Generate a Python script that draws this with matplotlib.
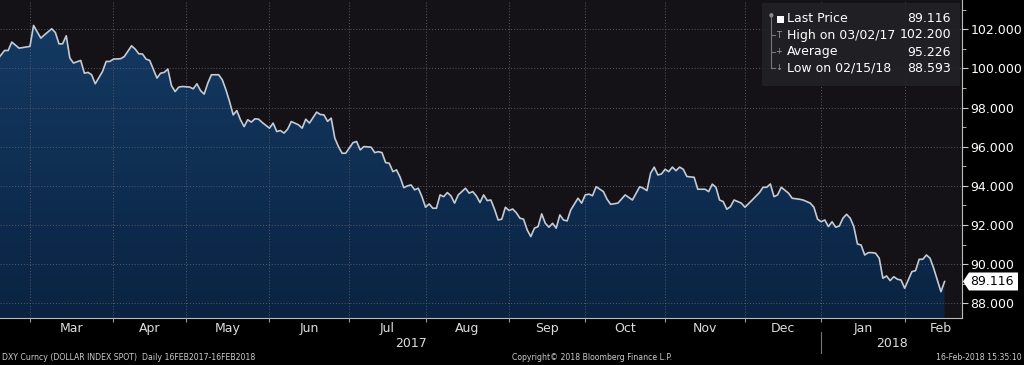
import numpy as np
import pandas as pd
import matplotlib
matplotlib.use('Agg')
import matplotlib.pyplot as plt
from matplotlib.colors import LinearSegmentedColormap
from matplotlib.patches import Polygon, Rectangle
from matplotlib.transforms import IdentityTransform

# trading-day number counted from 16FEB2017, and DXY close
day = [0, 2, 3, 4, 6, 9, 10, 12, 13, 15, 16, 17, 18, 19, 20, 21, 23, 24, 25, 26,
       27, 29, 30, 31, 32, 34, 35, 37, 38, 39, 40, 41, 42, 44, 45, 46, 47, 48, 49, 50,
       51, 53, 54, 55, 56, 57, 58, 59, 61, 62, 63, 64, 65, 66, 67, 68, 69, 70, 71, 72,
       73, 75, 76, 77, 78, 79, 80, 81, 83, 84, 85, 86, 88, 89, 90, 91, 92, 93, 94, 95,
       96, 98, 99, 100, 101, 103, 104, 105, 106, 107, 108, 109, 110, 111, 112, 113, 114, 115, 116, 117,
       118, 119, 120, 121, 122, 123, 124, 125, 126, 127, 129, 130, 131, 132, 133, 134, 135, 136, 137, 138,
       139, 140, 141, 142, 143, 144, 145, 146, 147, 148, 149, 150, 151, 152, 153, 154, 155, 156, 157, 158,
       160, 161, 162, 163, 164, 165, 167, 168, 169, 171, 173, 175, 177, 178, 179, 180, 181, 182, 183, 184,
       185, 186, 187, 188, 189, 190, 192, 193, 195, 196, 197, 198, 199, 200, 201, 202, 203, 205, 206, 208,
       210, 211, 212, 213, 214, 215, 216, 218, 219, 221, 222, 223, 224, 225, 226, 227, 228, 229, 230, 231,
       232, 233, 234, 235, 236, 237, 238, 239, 240, 241, 242, 243, 244, 245, 246, 247, 248, 249, 250, 251,
       252, 253, 254, 255, 256, 257, 258, 259, 260, 261]
price = [100.45, 100.92, 100.92, 101.35, 101.04, 101.13, 102.20, 101.55, 101.72, 102.03,
         101.84, 101.26, 101.26, 101.67, 100.53, 100.28, 100.41, 99.76, 99.80, 99.68,
         99.22, 99.85, 100.36, 100.36, 100.48, 100.50, 100.61, 101.16, 100.99, 100.75,
         100.74, 100.48, 100.41, 99.51, 99.76, 99.80, 99.97, 99.12, 98.82, 99.05,
         99.08, 99.05, 98.96, 99.22, 98.87, 98.69, 99.25, 99.68, 99.68, 99.42,
         98.91, 98.31, 97.63, 97.85, 97.38, 97.03, 97.38, 97.26, 97.43, 97.41,
         97.24, 96.95, 97.21, 96.78, 96.83, 96.70, 96.90, 97.29, 97.12, 96.95,
         97.41, 97.21, 97.77, 97.65, 97.63, 97.30, 97.46, 96.44, 96.01, 95.67,
         95.67, 96.21, 96.27, 95.84, 96.01, 95.98, 95.70, 95.75, 95.70, 95.19,
         95.16, 94.73, 94.82, 94.44, 93.91, 94.00, 94.05, 93.80, 93.88, 93.45,
         92.91, 93.08, 92.86, 92.86, 93.54, 93.45, 93.66, 93.49, 93.12, 93.54,
         93.88, 93.63, 93.71, 93.49, 93.15, 93.54, 93.25, 93.28, 92.81, 92.26,
         92.30, 92.91, 92.74, 92.82, 92.63, 92.35, 92.30, 91.75, 91.41, 91.84,
         91.92, 92.57, 92.09, 91.89, 92.09, 91.84, 92.52, 92.26, 92.21, 92.77,
         93.37, 93.12, 93.54, 93.58, 93.50, 93.96, 93.71, 93.32, 93.06, 93.12,
         93.54, 93.28, 93.96, 93.88, 93.76, 94.65, 94.96, 94.56, 94.61, 94.85,
         94.73, 94.96, 94.78, 94.96, 94.85, 94.48, 94.44, 93.83, 93.83, 93.71,
         94.09, 93.93, 93.28, 93.20, 92.81, 92.94, 93.28, 93.12, 92.91, 93.28,
         93.66, 93.93, 93.93, 94.10, 93.45, 93.54, 93.93, 93.63, 93.37, 93.32,
         93.28, 93.20, 93.12, 92.91, 92.30, 92.17, 92.26, 91.92, 92.17, 91.89,
         91.95, 92.35, 92.55, 92.35, 91.92, 91.03, 90.98, 90.47, 90.59, 90.59,
         90.56, 90.30, 89.28, 89.40, 89.16, 89.36, 89.23, 89.19, 88.77, 89.19,
         89.62, 89.67, 90.25, 90.25, 90.47, 90.30, 89.79, 89.19, 88.593, 89.116]

month_labels = ['Mar', 'Apr', 'May', 'Jun', 'Jul', 'Aug', 'Sep', 'Oct', 'Nov', 'Dec', 'Jan', 'Feb']
year_labels = ['2017', '2018']
y_ticks = [88, 90, 92, 94, 96, 98, 100, 102]
legend_labels = ['Last Price', 'High on 03/02/17', 'Average', 'Low on 02/15/18']
legend_values = ['89.116', '102.200', '95.226', '88.593']
last_price = '89.116'

W, H = 1024, 365
fig = plt.figure(figsize=(W / 100, H / 100), dpi=100, facecolor='black')
ax = fig.add_axes([0, 47 / H, 962 / W, 318 / H])
ax.set_facecolor('#141216')

x0, x1 = 0.75, 265.8
y0, y1 = 87.25, 103.5
ax.set_xlim(x0, x1)
ax.set_ylim(y0, y1)

# blue gradient area under the line
fill = ax.fill_between(day, price, y0, color='none', lw=0, zorder=1)
cmap = LinearSegmentedColormap.from_list('dxy', ['#0a2342', '#143a63'])
grad = np.linspace(0, 1, 256).reshape(-1, 1)
im = ax.imshow(grad, cmap=cmap, origin='lower', aspect='auto',
               extent=[x0, x1, y0, 102.5], zorder=1)
im.set_clip_path(fill.get_paths()[0], transform=ax.transData)
ax.plot(day, price, color='#c5cad3', lw=1.2, zorder=3)

# trading-day calendar for the month grid
bd = pd.bdate_range('2017-02-16', '2018-03-31')
firsts = bd.to_series().groupby(bd.to_period('M')).first().values
starts = np.searchsorted(bd.values, firsts)[1:]
centers = [(a + b) / 2 for a, b in zip(starts[:-1], starts[1:])]

ax.set_xticks(starts[:-1])
ax.set_xticklabels([])
ax.set_xticks(centers, minor=True)
ax.set_xticklabels(month_labels, minor=True)
ax.tick_params(axis='x', which='major', length=3, color='#999999', direction='out')
ax.tick_params(axis='x', which='minor', length=0, pad=3, labelsize=9, labelcolor='#dddddd')

ax.yaxis.tick_right()
ax.set_yticks(y_ticks)
ax.set_yticklabels(['%.3f' % v for v in y_ticks])
ax.set_yticks(np.arange(89, 104, 2), minor=True)
ax.tick_params(axis='y', which='both', direction='out', color='#cccccc', labelsize=9,
               labelcolor='white', pad=2)
ax.tick_params(axis='y', which='major', length=4)
ax.tick_params(axis='y', which='minor', length=3)

ax.set_axisbelow(False)
ax.grid(which='major', color='#59596a', linestyle=(0, (1, 2)), linewidth=0.7)
for s in ['top', 'left']:
    ax.spines[s].set_visible(False)
ax.spines['right'].set_color('#bbbbbb')
ax.spines['bottom'].set_color('#bbbbbb')

# year labels and separator
ax.text((starts[10] + x0) / 2, -0.06, year_labels[0], transform=ax.get_xaxis_transform(),
        ha='center', va='top', fontsize=9, color='#dddddd')
ax.text((starts[10] + x1) / 2, -0.06, year_labels[1], transform=ax.get_xaxis_transform(),
        ha='center', va='top', fontsize=9, color='#dddddd')
ax.plot([starts[10], starts[10]], [-0.045, -0.11], transform=ax.get_xaxis_transform(),
        color='#777777', lw=0.8, clip_on=False)

def px(x, y):
    return x / W, 1 - y / H

# legend box
fig.add_artist(Rectangle(px(762, 86), 198 / W, 83 / H, transform=fig.transFigure,
                         facecolor='#222226', edgecolor='none', alpha=0.92, zorder=2))
fig.add_artist(plt.Line2D([771 / W, 771 / W], [1 - 17 / H, 1 - 68 / H], color='#777777', lw=0.8, zorder=3))
for yy in [35, 52, 68]:
    fig.add_artist(plt.Line2D([771 / W, 775 / W], [1 - yy / H, 1 - yy / H], color='#777777', lw=0.8, zorder=3))
fig.text(*px(771, 15), '●', fontsize=4, color='#888888', ha='center', va='center')
fig.add_artist(Rectangle(px(777, 23), 7 / W, 7 / H, transform=fig.transFigure,
                         facecolor='white', edgecolor='none', zorder=3))
fig.text(*px(779, 35), 'T', fontsize=6, color='#999999', ha='center', va='center')
fig.text(*px(779, 52), '+', fontsize=6, color='#999999', ha='center', va='center')
fig.text(*px(779, 68), '↓', fontsize=6, color='#999999', ha='center', va='center')
for k, (lab, val) in enumerate(zip(legend_labels, legend_values)):
    yy = [19, 35, 52, 68][k]
    fig.text(*px(787, yy), lab, fontsize=9, color='white', ha='left', va='center')
    fig.text(*px(951, yy), val, fontsize=9, color='white', ha='right', va='center')

# last price tag on the axis
fig.canvas.draw()
ty = ax.transData.transform((0, price[-1]))[1]
tx = ax.transAxes.transform((1, 0))[0]
tag = Polygon([(tx + 1, ty), (tx + 7, ty + 9), (tx + 56, ty + 9), (tx + 56, ty - 9), (tx + 7, ty - 9)],
              closed=True, transform=IdentityTransform(), facecolor='white', edgecolor='none', zorder=5)
fig.add_artist(tag)
fig.text((tx + 8) / W, ty / H, last_price, fontsize=9, color='black', ha='left', va='center', zorder=6)

# footer
fig.text(*px(2, 358), 'DXY Curncy (DOLLAR INDEX SPOT)  Daily 16FEB2017-16FEB2018',
         fontsize=5.6, color='#cccccc', ha='left', va='center')
fig.text(*px(512, 358), 'Copyright\u00a9 2018 Bloomberg Finance L.P.',
         fontsize=5.6, color='#cccccc', ha='left', va='center')
fig.text(*px(1022, 358), '16-Feb-2018 15:35:10',
         fontsize=5.6, color='#cccccc', ha='right', va='center')

fig.savefig('out.png', dpi=100, facecolor='black')
